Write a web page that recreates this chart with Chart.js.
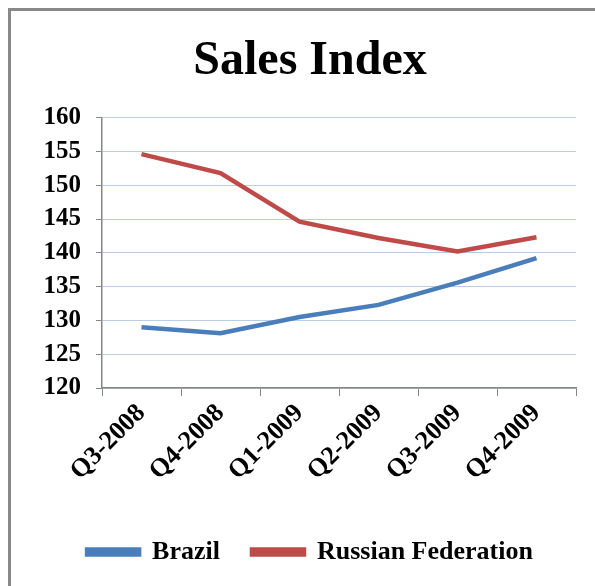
<!DOCTYPE html>
<html>
<head>
<meta charset="utf-8">
<script src="https://cdn.jsdelivr.net/npm/chart.js@4/dist/chart.umd.min.js"></script>
<style>
  html, body { margin: 0; padding: 0; background: #fff; overflow: hidden; width: 595px; height: 586px; }
  #frame { position: absolute; left: 8px; top: 8px; width: 700px; height: 700px; border: 3px solid #898989; }
  #wrap { position: absolute; left: 10px; top: 10px; width: 600px; height: 576px; }
</style>
</head>
<body>
<div id="frame"></div>
<div id="wrap"><canvas id="salesChart"></canvas></div>
<script>
var quarters = ['Q3-2008', 'Q4-2008', 'Q1-2009', 'Q2-2009', 'Q3-2009', 'Q4-2009'];
var brazil = [129.0, 128.1, 130.5, 132.3, 135.6, 139.2];
var russia = [154.6, 151.8, 144.6, 142.2, 140.2, 142.3];
var yMin = 120, yMax = 160, yStep = 5;

var axisGray = '#868686';
var serif = '"Liberation Serif", "Times New Roman", serif';

var ctx = document.getElementById('salesChart').getContext('2d');
var salesChart = new Chart(ctx, {
    type: 'line',
    data: {
        labels: quarters,
        datasets: [{
            label: 'Brazil',
            data: brazil,
            borderColor: '#4a7ebb',
            backgroundColor: '#4a7ebb',
            borderWidth: 4.5,
            pointRadius: 0,
            tension: 0
        }, {
            label: 'Russian Federation',
            data: russia,
            borderColor: '#be4b48',
            backgroundColor: '#be4b48',
            borderWidth: 4.5,
            pointRadius: 0,
            tension: 0
        }]
    },
    options: {
        responsive: true,
        maintainAspectRatio: false,
        animation: false,
        // equal side padding keeps the title and legend centred like the original
        layout: { padding: { left: 34, right: 34, top: 0, bottom: 11 } },
        plugins: {
            title: {
                display: true,
                text: 'Sales Index',
                color: '#000',
                font: { family: serif, size: 48, weight: 'bold' },
                padding: { top: 23, bottom: 27 }
            },
            legend: {
                position: 'bottom',
                labels: {
                    color: '#000',
                    font: { family: serif, size: 26, weight: 'bold' },
                    boxWidth: 52,
                    boxHeight: 5,
                    padding: 32
                }
            },
            tooltip: { enabled: false }
        },
        scales: {
            x: {
                offset: true,
                grid: {
                    offset: true,
                    drawOnChartArea: false,
                    tickLength: 8,
                    tickColor: axisGray
                },
                border: { color: axisGray, width: 1.5 },
                ticks: {
                    autoSkip: false,
                    color: '#000',
                    font: { family: serif, size: 26, weight: 'bold' },
                    minRotation: 45,
                    maxRotation: 45,
                    padding: 2
                },
                afterFit: function (scale) { scale.height = 119; }
            },
            y: {
                min: yMin,
                max: yMax,
                grid: {
                    color: '#b9cde5',
                    tickColor: axisGray,
                    tickLength: 6
                },
                border: { color: axisGray, width: 1.5 },
                ticks: {
                    autoSkip: false,
                    stepSize: yStep,
                    color: '#000',
                    font: { family: serif, size: 25, weight: 'bold' },
                    padding: 15
                },
                afterFit: function (scale) { scale.width = 58; }
            }
        }
    }
});
</script>
</body>
</html>
